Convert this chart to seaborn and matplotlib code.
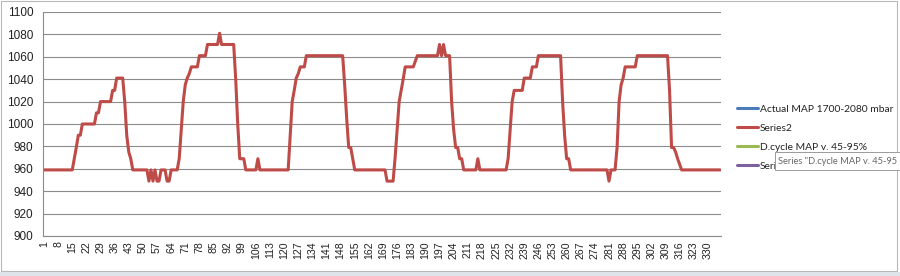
import matplotlib
matplotlib.use("Agg")
import matplotlib.pyplot as plt
import seaborn as sns
import pandas as pd
from matplotlib.lines import Line2D
from matplotlib.patches import Rectangle

# ---- data ----
series_names = ["Actual MAP 1700-2080 mbar", "Series2", "D.cycle MAP v. 45-95%", "Series4"]
series_colors = ["#4A7EBB", "#BE4B48", "#98B954", "#7D60A0"]

series2 = [
    959, 959, 959, 959, 959, 959, 959, 959, 959, 959, 959, 959, 959, 959, 959,
    969, 979, 990, 990,
    1000, 1000, 1000, 1000, 1000, 1000, 1000,
    1010, 1010,
    1020, 1020, 1020, 1020, 1020, 1020,
    1030, 1030,
    1041, 1041, 1041, 1041,
    1020, 990, 975, 969,
    959, 959, 959, 959, 959, 959, 959, 959,
    949, 959, 949, 959, 949, 949, 959, 959, 959, 949, 949,
    959, 959, 959, 959,
    969, 995, 1020, 1035, 1041, 1045,
    1051, 1051, 1051, 1051,
    1061, 1061, 1061, 1061,
    1071, 1071, 1071, 1071, 1071, 1071,
    1081,
    1071, 1071, 1071, 1071, 1071, 1071, 1071,
    1040, 1000,
    969, 969, 969,
    959, 959, 959, 959, 959, 959,
    969,
    959, 959, 959, 959, 959, 959, 959, 959, 959, 959, 959, 959, 959, 959, 959,
    990, 1020, 1030, 1041, 1045,
    1051, 1051, 1051,
    1061, 1061, 1061, 1061, 1061, 1061, 1061, 1061, 1061, 1061,
    1061, 1061, 1061, 1061, 1061, 1061, 1061, 1061, 1061,
    1035, 1005, 979, 979, 969,
    959, 959, 959, 959, 959, 959, 959, 959, 959, 959, 959, 959, 959, 959, 959, 959,
    949, 949, 949, 949,
    970, 995, 1020, 1030, 1040,
    1051, 1051, 1051, 1051, 1051,
    1056,
    1061, 1061, 1061, 1061, 1061, 1061, 1061, 1061, 1061, 1061, 1061,
    1071, 1061, 1071, 1061, 1061, 1061,
    1020, 995, 979, 979, 969, 969,
    959, 959, 959, 959, 959, 959, 959,
    969,
    959, 959, 959, 959, 959, 959, 959, 959, 959, 959, 959, 959, 959, 959,
    969, 995, 1020,
    1030, 1030, 1030, 1030, 1030,
    1041, 1041, 1041, 1041,
    1051, 1051, 1051,
    1061, 1061, 1061, 1061, 1061, 1061, 1061, 1061, 1061, 1061, 1061, 1061,
    1020, 990, 969, 969,
    959, 959, 959, 959, 959, 959, 959, 959, 959, 959,
    959, 959, 959, 959, 959, 959, 959, 959, 959,
    949, 959, 959, 959,
    979, 1020, 1035, 1041,
    1051, 1051, 1051, 1051, 1051, 1051,
    1061, 1061, 1061, 1061, 1061, 1061, 1061, 1061,
    1061, 1061, 1061, 1061, 1061, 1061, 1061, 1061,
    1030, 979, 979, 975, 969, 964,
    959, 959, 959, 959, 959, 959, 959, 959, 959, 959,
    959, 959, 959, 959, 959, 959, 959, 959, 959, 959,
]
sample = list(range(1, len(series2) + 1))
y_ticks = [900, 920, 940, 960, 980, 1000, 1020, 1040, 1060, 1080, 1100]
x_tick_labels = list(range(1, len(series2) + 1, 7))
tooltip_text = 'Series "D.cycle MAP v. 45-95'

df = pd.DataFrame({"sample": sample, "value": series2})

# ---- figure ----
sns.set_theme(style="white")
plt.rcParams["font.family"] = ["Liberation Sans", "DejaVu Sans"]

W, H = 900, 276
fig = plt.figure(figsize=(W / 100, H / 100), dpi=100)
ax = fig.add_axes([43 / W, 1 - 236 / H, (721 - 43) / W, (236 - 12) / H])

sns.lineplot(data=df, x="sample", y="value", ax=ax, color=series_colors[1],
             linewidth=2.2, legend=False)

n = len(series2)
ax.set_xlim(0.5, n + 0.5)
ax.set_ylim(900, 1100)
ax.set_yticks(y_ticks)
ax.set_yticklabels([str(v) for v in y_ticks], fontsize=8.5, color="#222222")
ax.set_xticks(x_tick_labels)
ax.set_xticklabels([str(v) for v in x_tick_labels], rotation=90, fontsize=7.6,
                   color="#222222")
ax.set_xticks([i + 0.5 for i in range(0, n + 1)], minor=True)
ax.tick_params(axis="x", which="major", length=0, pad=4)
ax.tick_params(axis="x", which="minor", length=3, color="#888888", width=0.6,
               direction="out")
ax.tick_params(axis="y", length=3, color="#888888", width=0.6, pad=4)
ax.set_xlabel("")
ax.set_ylabel("")
ax.grid(axis="y", color="#8c8c8c", linewidth=0.8)
ax.set_axisbelow(True)
for side in ["top", "right"]:
    ax.spines[side].set_visible(False)
for side in ["left", "bottom"]:
    ax.spines[side].set_color("#8c8c8c")
    ax.spines[side].set_linewidth(0.8)

# legend
handles = [Line2D([0], [0], color=c, linewidth=2.2) for c in series_colors]
leg = fig.legend(handles, series_names, loc="upper left",
                 bbox_to_anchor=(736.5 / W, 1 - 104.5 / H), frameon=False,
                 prop={"family": ["Lato", "DejaVu Sans"], "size": 7.4},
                 handlelength=2.05, handletextpad=0.2,
                 labelspacing=0.96, borderaxespad=0, borderpad=0)
for t in leg.get_texts():
    t.set_color("#222222")

# tooltip overlapping the legend (its box runs past the chart edge)
tip_box = Rectangle((775 / W, 1 - 170 / H), 130 / W, 18 / H,
                    transform=fig.transFigure, facecolor="white",
                    edgecolor="#9a9a9a", linewidth=0.7, zorder=19)
fig.patches.append(tip_box)
fig.text(778 / W, 1 - 161 / H, tooltip_text, fontsize=6.65,
         family=["Lato", "DejaVu Sans"],
         color="#666666", va="center", ha="left", zorder=20)

# chart-area border and bottom strip
fig.patches.append(Rectangle((1 / W, 1 - 271 / H), 896 / W, 270 / H,
                             transform=fig.transFigure, fill=False,
                             edgecolor="#b8b8b8", linewidth=0.8))
fig.patches.append(Rectangle((0, 0), 1, 4 / H, transform=fig.transFigure,
                             facecolor="#dfe3ea", edgecolor="none"))

fig.savefig("out.png", dpi=100)
